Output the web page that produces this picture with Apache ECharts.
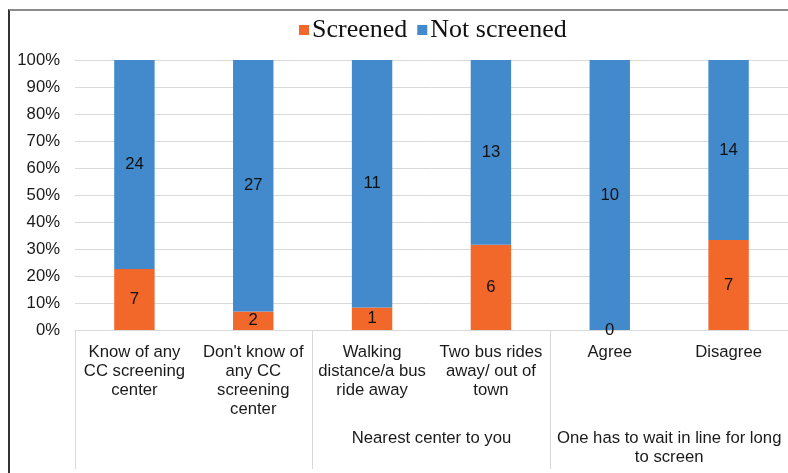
<!DOCTYPE html>
<html>
<head>
<meta charset="utf-8">
<script src="https://cdn.jsdelivr.net/npm/echarts@6/dist/echarts.min.js"></script>
<style>
  html, body { margin: 0; padding: 0; background: #fff; }
  #frame { position: absolute; left: 8px; top: 9px; width: 790px; height: 480px;
    border-left: 2px solid #333; border-top: 2px solid #8c8c8c; }
  #main { position: absolute; left: 0; top: 0; width: 788px; height: 473px; }
</style>
</head>
<body>
<div id="frame"></div>
<div id="main"></div>
<script>
  // categories (first level) and groups (second level)
  var categories = [
    "Know of any\nCC screening\ncenter",
    "Don't know of\nany CC\nscreening\ncenter",
    "Walking\ndistance/a bus\nride away",
    "Two bus rides\naway/ out of\ntown",
    "Agree",
    "Disagree"
  ];
  var groups = ["", "Nearest center to you", "One has to wait in line for long\nto screen"];
  // counts
  var screened = [7, 2, 1, 6, 0, 7];
  var notScreened = [24, 27, 11, 13, 10, 14];
  var yTicks = [0, 10, 20, 30, 40, 50, 60, 70, 80, 90, 100];

  var totals = screened.map(function (v, i) { return v + notScreened[i]; });
  var pctScreened = screened.map(function (v, i) { return v / totals[i] * 100; });
  var pctNot = notScreened.map(function (v, i) { return v / totals[i] * 100; });

  var sans = "'Liberation Sans', Arial, sans-serif";
  var chart = echarts.init(document.getElementById('main'));
  chart.setOption({
    animation: false,
    color: ['#F2672A', '#428ACB'],
    legend: {
      left: 294, top: 12,
      itemWidth: 10, itemHeight: 10, itemGap: 10,
      icon: 'rect',
      textStyle: { fontFamily: "'Liberation Serif', 'Times New Roman', serif", fontSize: 26, color: '#111', padding: [0, 0, 0, -2] },
      data: ['Screened', 'Not screened']
    },
    grid: { left: 75, right: -2, top: 60, bottom: 143 },
    xAxis: [{
      type: 'category',
      position: 'bottom',
      data: categories,
      axisLine: { lineStyle: { color: '#d9d9d9', width: 1 } },
      axisTick: { show: false },
      axisLabel: { interval: 0, margin: 13, fontFamily: sans, fontSize: 16.7, color: '#1a1a1a', lineHeight: 19 }
    }, {
      type: 'category',
      position: 'bottom',
      offset: 0,
      data: groups,
      axisLine: { show: false },
      axisTick: { show: true, length: 139, lineStyle: { color: '#d9d9d9', width: 1 } },
      axisLabel: { interval: 0, margin: 99, fontFamily: sans, fontSize: 16.7, color: '#1a1a1a', lineHeight: 19 }
    }],
    yAxis: {
      type: 'value',
      min: yTicks[0], max: yTicks[yTicks.length - 1], interval: 10,
      axisLine: { show: false },
      axisTick: { show: false },
      splitLine: { lineStyle: { color: '#d9d9d9', width: 1 } },
      axisLabel: { margin: 15, fontFamily: sans, fontSize: 16.7, color: '#1a1a1a', formatter: '{value}%' }
    },
    series: [{
      name: 'Screened',
      type: 'bar',
      stack: 'all',
      barWidth: '34%',
      data: pctScreened,
      label: {
        show: true, position: 'inside', fontFamily: sans, fontSize: 16.7, color: '#111',
        formatter: function (p) { return screened[p.dataIndex]; }
      }
    }, {
      name: 'Not screened',
      type: 'bar',
      stack: 'all',
      barWidth: '34%',
      data: pctNot,
      label: {
        show: true, position: 'inside', fontFamily: sans, fontSize: 16.7, color: '#111',
        formatter: function (p) { return notScreened[p.dataIndex]; }
      }
    }]
  });
</script>
</body>
</html>
